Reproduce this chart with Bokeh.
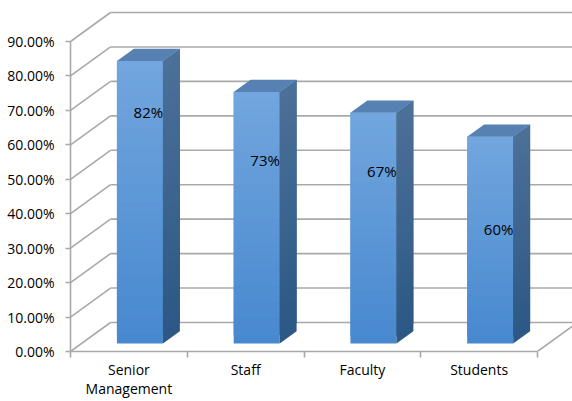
import numpy as np
from bokeh.plotting import figure
from bokeh.models import FixedTicker, PrintfTickFormatter, ColumnDataSource, Range1d
from bokeh.core.properties import value
from bokeh.embed import file_html
from bokeh.resources import INLINE

# ---- data ----
categories = ["Senior\nManagement", "Staff", "Faculty", "Students"]
values = [82, 73, 67, 60]
value_labels = ["82%", "73%", "67%", "60%"]
label_heights = [69.4, 55.5, 52.5, 35.7]   # where the data labels sit (in % units)
y_ticks = [0, 10, 20, 30, 40, 50, 60, 70, 80, 90]

# ---- style / geometry ----
FONT = "Open Sans"
GRID = "#a9a9a9"
DX, DY = 0.3426, 8.42        # 3-D depth vector in data units
Z0, Z1 = 0.276, 0.70         # bar depth span (fraction of depth)
BAR_W = 0.394
N_STRIPS = 30

def hex2rgb(h):
    h = h.lstrip("#")
    return np.array([int(h[i:i + 2], 16) for i in (0, 2, 4)], dtype=float)

def mix(c1, c2, t):
    c = hex2rgb(c1) * (1 - t) + hex2rgb(c2) * t
    return "#%02x%02x%02x" % tuple(int(round(v)) for v in c)

FRONT_TOP, FRONT_BOT = "#72a6de", "#4788cf"
SIDE_TOP, SIDE_BOT = "#4c7199", "#2c5784"
TOP_FACE = "#5781b3"

n = len(categories)
p = figure(width=572, height=401, output_backend="svg", toolbar_location=None,
           x_range=Range1d(0, 502 / 116.75), y_range=Range1d(0, 351 / 3.4444),
           min_border_left=70, min_border_right=0, min_border_top=0, min_border_bottom=50)
p.outline_line_color = None
p.xgrid.visible = False
p.ygrid.visible = False
p.background_fill_color = "white"

# ---- walls / gridlines ----
xs_grid, ys_grid = [], []
for t in y_ticks:
    xs_grid.append([0, DX]); ys_grid.append([t, t + DY])            # side wall
    xs_grid.append([DX, n + DX + 1]); ys_grid.append([t + DY, t + DY])  # back wall
xs_grid.append([n, n + DX]); ys_grid.append([0, DY])                # floor right edge
p.multi_line(xs_grid, ys_grid, line_color=GRID, line_width=1.6)

# ---- bars ----
dzx, dzy = (Z1 - Z0) * DX, (Z1 - Z0) * DY
for i, v in enumerate(values):
    c = i + 0.5
    x0 = c - BAR_W / 2 + Z0 * DX
    x1 = c + BAR_W / 2 + Z0 * DX
    yb = Z0 * DY
    edges = np.linspace(yb, v + yb, N_STRIPS + 1)
    fcols, scols, qb, qt, sx, sy = [], [], [], [], [], []
    for k in range(N_STRIPS):
        tt = 1 - (k + 0.5) / N_STRIPS
        fcols.append(mix(FRONT_TOP, FRONT_BOT, tt))
        scols.append(mix(SIDE_TOP, SIDE_BOT, tt))
        ya = edges[k]
        yt = edges[min(k + 2, N_STRIPS)]   # overlap the next strip to avoid seams
        qb.append(ya); qt.append(yt)
        sx.append([x1, x1 + dzx, x1 + dzx, x1])
        sy.append([ya, ya + dzy, yt + dzy, yt])
    p.quad(left=x0, right=x1, bottom=qb, top=qt, fill_color=fcols, line_color=None)
    p.patches(sx, sy, fill_color=scols, line_color=None)
    top = v + yb
    p.patch([x0, x1, x1 + dzx, x0 + dzx], [top, top, top + dzy, top + dzy],
            fill_color=TOP_FACE, line_color=None)

# ---- data labels ----
zm = (Z0 + Z1) / 2
src = ColumnDataSource(dict(x=[i + 0.5 + zm * DX for i in range(n)], y=label_heights, t=value_labels))
p.text(x="x", y="y", text="t", source=src, text_font=value(FONT), text_font_size="15px",
       text_align="center", text_baseline="middle", text_color="#000000")

# ---- axes ----
ya = p.yaxis[0]
ya.ticker = FixedTicker(ticks=y_ticks, minor_ticks=[])
ya.formatter = PrintfTickFormatter(format="%.2f%%")
ya.bounds = (0, 90)
ya.axis_line_color = GRID
ya.axis_line_width = 1.6
ya.major_tick_line_color = GRID
ya.major_tick_line_width = 1.6
ya.major_tick_out = 5
ya.major_tick_in = 0
ya.major_label_standoff = 11
ya.major_label_text_font = FONT
ya.major_label_text_font_size = "14px"
ya.major_label_text_color = "#000000"

xa = p.xaxis[0]
xa.ticker = FixedTicker(ticks=[i + 0.5 for i in range(n)], minor_ticks=list(range(n + 1)))
xa.major_label_overrides = {i + 0.5: lab for i, lab in enumerate(categories)}
xa.bounds = (0, n)
xa.axis_line_color = GRID
xa.axis_line_width = 1.6
xa.major_tick_out = 0
xa.major_tick_in = 0
xa.minor_tick_line_color = GRID
xa.minor_tick_line_width = 1.6
xa.minor_tick_out = 6
xa.minor_tick_in = 0
xa.major_label_standoff = 2
xa.major_label_text_line_height = 1.0
xa.major_label_text_font = FONT
xa.major_label_text_font_size = "14px"
xa.major_label_text_color = "#000000"

open("out.html", "w").write(file_html(p, INLINE))
